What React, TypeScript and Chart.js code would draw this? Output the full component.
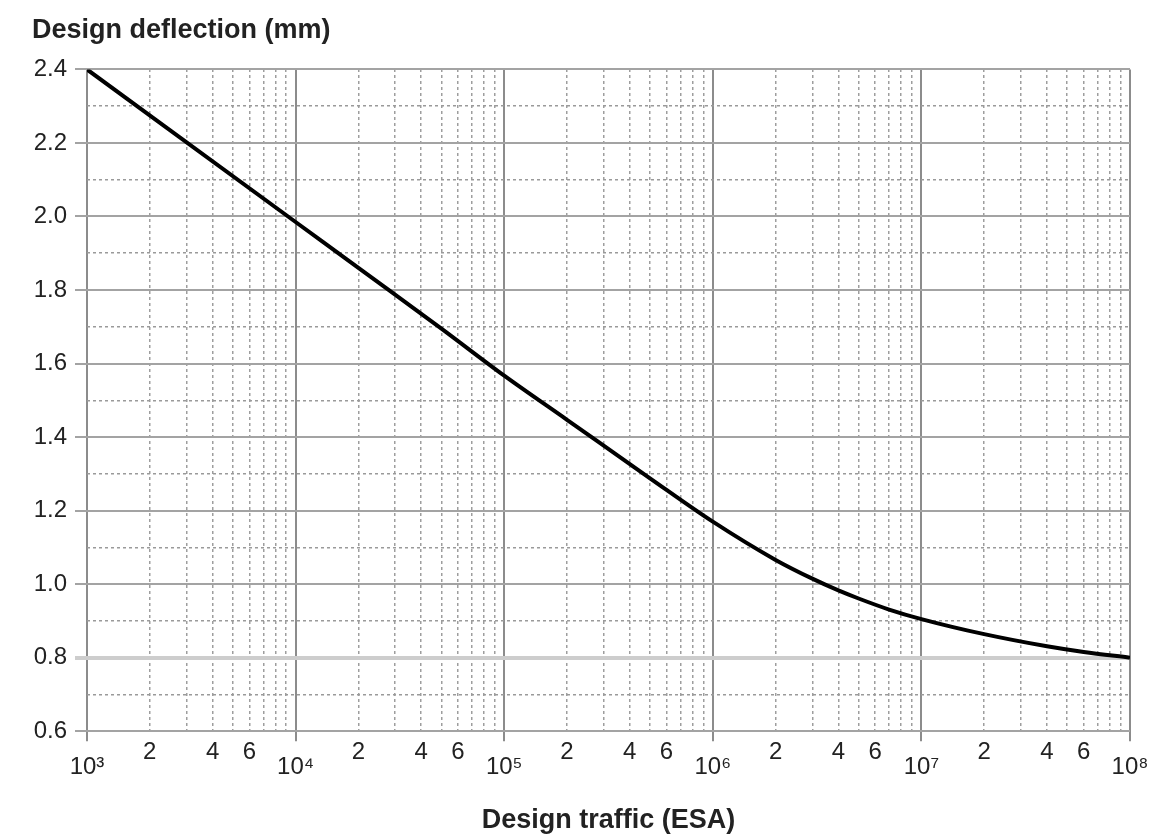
import React, { useEffect, useRef } from 'react';
import { Chart, registerables } from 'chart.js';

Chart.register(...registerables);

// Design traffic (ESA) and design deflection (mm)
const traffic = [1e3, 1e4, 2e4, 5e4, 1e5, 2e5, 5e5, 1e6, 2e6, 3e6, 4e6, 5e6, 7e6, 1e7, 2e7, 4e7, 6e7, 1e8];
const deflection = [2.4, 1.985, 1.86, 1.695, 1.567, 1.447, 1.288, 1.17, 1.066, 1.015, 0.983, 0.961, 0.931, 0.905, 0.864, 0.831, 0.8155, 0.8];

// Axis tick values
const xMin = 1e3;
const xMax = 1e8;
const decades = [3, 4, 5, 6, 7, 8];
const mantissas = [1, 2, 3, 4, 5, 6, 7, 8, 9];
const labelledMantissas = [2, 4, 6];
const superscripts: Record<number, string> = { 3: '³', 4: '⁴', 5: '⁵', 6: '⁶', 7: '⁷', 8: '⁸' };
const yMin = 0.6;
const yMax = 2.4;
const yMajorStep = 0.2;
const yMinorStep = 0.1;

const FONT = "'Liberation Sans', Arial, Helvetica, sans-serif";

function allLogTicks(): number[] {
  const out: number[] = [];
  for (const d of decades) {
    for (const m of mantissas) {
      const v = m * Math.pow(10, d);
      if (v >= xMin - 1e-6 && v <= xMax + 1e-6) out.push(v);
    }
  }
  return out;
}
function isDecade(v: number): boolean {
  const l = Math.log10(v);
  return Math.abs(l - Math.round(l)) < 1e-9;
}
function mantissaOf(v: number): number {
  const e = Math.floor(Math.log10(v) + 1e-9);
  return Math.round(v / Math.pow(10, e));
}

export default function App() {
  const ref = useRef<HTMLCanvasElement>(null);

  useEffect(() => {
    document.body.style.margin = '0';
    Chart.defaults.font.family = FONT;
    Chart.defaults.color = '#222';

    const points = traffic.map((x, i) => ({ x, y: deflection[i] }));

    const chart = new Chart(ref.current!, {
      type: 'line',
      data: {
        datasets: [
          {
            data: points,
            borderColor: '#000',
            borderWidth: 4,
            pointRadius: 0,
            tension: 0.4,
            cubicInterpolationMode: 'monotone',
            fill: false,
            xAxisID: 'x',
            yAxisID: 'y',
          },
        ],
      },
      options: {
        animation: false,
        responsive: true,
        maintainAspectRatio: false,
        layout: { padding: { left: 32, right: 40, top: 14, bottom: 0 } },
        plugins: {
          legend: { display: false },
          tooltip: { enabled: false },
          title: {
            display: true,
            text: 'Design deflection (mm)',
            align: 'start',
            color: '#222',
            font: { family: FONT, size: 27, weight: 'bold' },
            padding: { top: 0, bottom: 23 },
          },
        },
        scales: {
          x: {
            type: 'logarithmic',
            position: 'bottom',
            min: xMin,
            max: xMax,
            afterBuildTicks: (scale: any) => {
              scale.ticks = allLogTicks().map((v) => ({ value: v }));
            },
            border: { display: false },
            grid: {
              color: (ctx: any) => (ctx.tick && isDecade(ctx.tick.value) ? '#8c8c8c' : 'rgba(0,0,0,0)'),
              tickColor: (ctx: any) => (ctx.tick && isDecade(ctx.tick.value) ? '#8c8c8c' : 'rgba(0,0,0,0)'),
              lineWidth: 2,
              tickLength: 10,
            },
            ticks: {
              autoSkip: false,
              maxRotation: 0,
              minRotation: 0,
              padding: 4,
              color: '#222',
              font: { family: FONT, size: 24, lineHeight: 0.62 },
              callback: (value: any) => {
                const v = Number(value);
                if (isDecade(v)) {
                  const e = Math.round(Math.log10(v));
                  return ['', '10' + superscripts[e]];
                }
                const m = mantissaOf(v);
                return labelledMantissas.includes(m) ? String(m) : '';
              },
            },
            title: {
              display: true,
              text: 'Design traffic (ESA)',
              color: '#222',
              font: { family: FONT, size: 27, weight: 'bold', lineHeight: 1.0 },
              padding: { top: 28, bottom: 0 },
            },
          },
          xMinor: {
            type: 'logarithmic',
            position: 'top',
            min: xMin,
            max: xMax,
            afterBuildTicks: (scale: any) => {
              scale.ticks = allLogTicks()
                .filter((v) => !isDecade(v))
                .map((v) => ({ value: v }));
            },
            border: { display: false, dash: [3, 3] },
            grid: { color: '#9e9e9e', lineWidth: 1.5, drawTicks: false },
            ticks: { display: false },
          },
          y: {
            type: 'linear',
            position: 'left',
            min: yMin,
            max: yMax,
            afterFit: (scale: any) => {
              scale.width = 55;
            },
            border: { display: false },
            grid: {
              color: (ctx: any) => (ctx.tick && Math.abs(ctx.tick.value - 0.8) < 1e-6 ? '#cdcdcd' : '#a3a3a3'),
              tickColor: (ctx: any) => (ctx.tick && Math.abs(ctx.tick.value - 0.8) < 1e-6 ? '#cdcdcd' : '#a3a3a3'),
              lineWidth: (ctx: any) => (ctx.tick && Math.abs(ctx.tick.value - 0.8) < 1e-6 ? 4 : 2),
              tickLength: 12,
            },
            ticks: {
              stepSize: yMajorStep,
              padding: 8,
              color: '#222',
              font: { family: FONT, size: 24 },
              callback: (value: any) => Number(value).toFixed(1),
            },
          },
          yMinor: {
            type: 'linear',
            position: 'right',
            min: yMin,
            max: yMax,
            border: { display: false, dash: [3, 3] },
            grid: {
              color: (ctx: any) => {
                if (!ctx.tick) return 'rgba(0,0,0,0)';
                const k = Math.round(ctx.tick.value / yMinorStep);
                return k % 2 === 1 ? '#9a9a9a' : 'rgba(0,0,0,0)';
              },
              lineWidth: 1.5,
              drawTicks: false,
            },
            ticks: { display: false, stepSize: yMinorStep },
          },
        },
      },
    });

    return () => chart.destroy();
  }, []);

  return (
    <div style={{ position: 'fixed', left: 0, top: 0, width: 1170, height: 834, background: '#fff' }}>
      <canvas ref={ref} />
    </div>
  );
}
